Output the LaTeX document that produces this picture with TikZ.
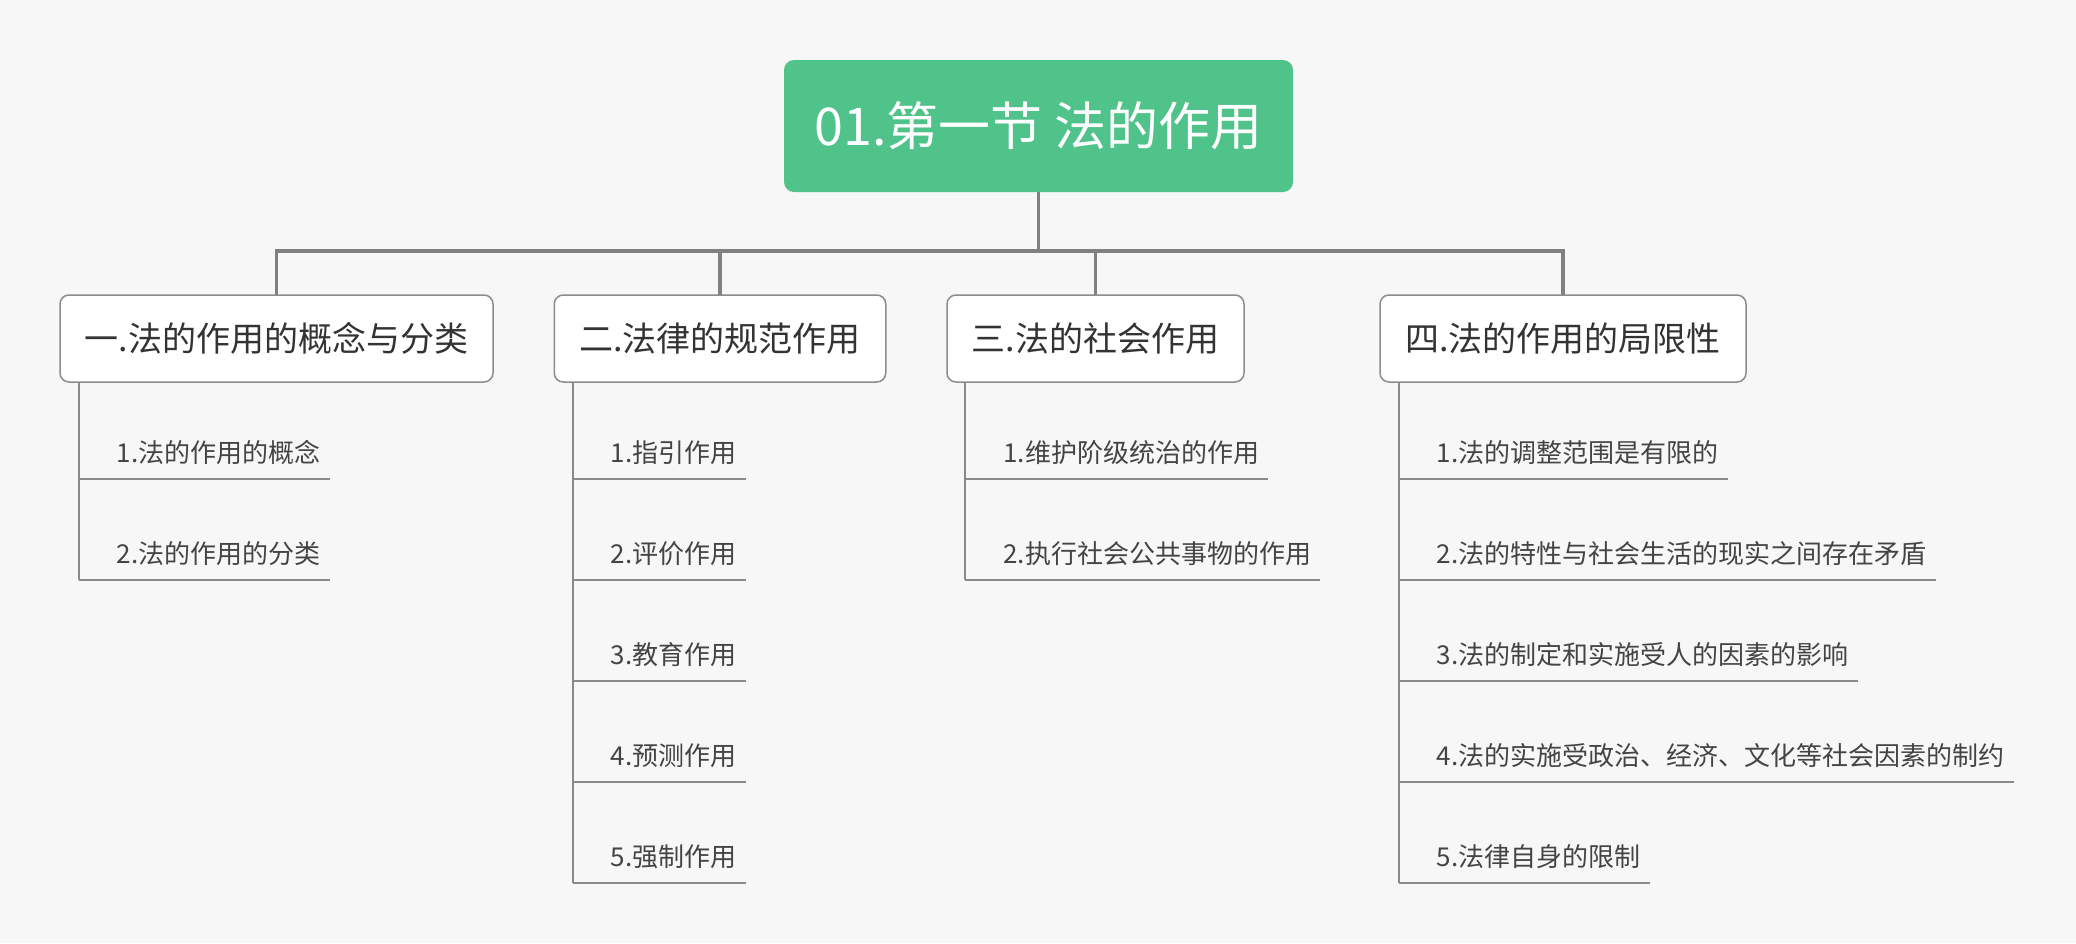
\documentclass[tikz,border=0pt]{standalone}
\usepackage{fontspec}
\setmainfont{Noto Sans CJK SC}
\usetikzlibrary{calc}
\definecolor{bgcol}{HTML}{F7F7F7}
\definecolor{rootgreen}{HTML}{50C38A}
\definecolor{trunkgray}{HTML}{808080}
\definecolor{twiggray}{HTML}{8A8A8A}
\definecolor{boxline}{HTML}{8C8C8C}
\definecolor{topictext}{HTML}{333333}
\definecolor{leaftext}{HTML}{444444}
\begin{document}
\begin{tikzpicture}[x=1pt,y=-1pt,
  rootbox/.style={fill=rootgreen, rounded corners=10pt, minimum width=509pt, minimum height=132pt,
    text=white, font=\fontsize{52}{60}\selectfont, inner sep=0pt},
  topic/.style={draw=boxline, line width=1.5pt, fill=white, rounded corners=9pt, minimum height=87pt,
    font=\fontsize{34}{40}\selectfont, text=topictext, inner sep=0pt},
  leaf/.style={anchor=base west, inner xsep=9pt, inner ysep=0pt,
    font=\fontsize{26}{30}\selectfont, text=leaftext},
  trunk/.style={draw=trunkgray, line width=3.5pt, line join=miter},
  twig/.style={draw=twiggray, line width=2pt}]
\useasboundingbox[fill=bgcol] (0,0) rectangle (2076,943);

% connectors first (drawn under boxes)
\coordinate (bus) at (1038.5,251);
\coordinate (rootbot) at (1038.5,192);
\coordinate (t1top) at (276.5,295);
\coordinate (t2top) at (720,295);
\coordinate (t3top) at (1095.5,295);
\coordinate (t4top) at (1563,295);
\draw[trunk] (rootbot) -- (bus);
\draw[trunk] (t1top) |- (bus) -| (t4top);
\draw[trunk] (t2top) -- (t2top |- bus);
\draw[trunk] (t3top) -- (t3top |- bus);

% root
\node[rootbox] (root) at (1038.5,126) {01.第一节 法的作用};

% topics
\node[topic, minimum width=433pt] (t1) at (276.5,338.5) {一.法的作用的概念与分类};
\node[topic, minimum width=331.5pt] (t2) at (720,338.5) {二.法律的规范作用};
\node[topic, minimum width=297pt] (t3) at (1095.5,338.5) {三.法的社会作用};
\node[topic, minimum width=366pt] (t4) at (1563,338.5) {四.法的作用的局限性};

\coordinate (v1) at ($(t1.south west)+(19.5,0)$);
\coordinate (v2) at ($(t2.south west)+(19,0)$);
\coordinate (v3) at ($(t3.south west)+(19,0)$);
\coordinate (v4) at ($(t4.south west)+(19.5,0)$);

% leaves of topic 1
\foreach \k/\txt in {1/1.法的作用的概念, 2/2.法的作用的分类}{
  \path (v1) ++(29,{79.5+101*(\k-1)}) node[leaf] (a\k) {\txt};
  \path (v1) ++(0,{96.5+101*(\k-1)}) coordinate (ua\k);
  \draw[twig] (ua\k) -- (ua\k -| a\k.east);
}
\draw[twig] (v1) -- (ua2);

% leaves of topic 2
\foreach \k/\txt in {1/1.指引作用, 2/2.评价作用, 3/3.教育作用, 4/4.预测作用, 5/5.强制作用}{
  \path (v2) ++(29,{79.5+101*(\k-1)}) node[leaf] (b\k) {\txt};
  \path (v2) ++(0,{96.5+101*(\k-1)}) coordinate (ub\k);
  \draw[twig] (ub\k) -- (ub\k -| b\k.east);
}
\draw[twig] (v2) -- (ub5);

% leaves of topic 3
\foreach \k/\txt in {1/1.维护阶级统治的作用, 2/2.执行社会公共事物的作用}{
  \path (v3) ++(29,{79.5+101*(\k-1)}) node[leaf] (c\k) {\txt};
  \path (v3) ++(0,{96.5+101*(\k-1)}) coordinate (uc\k);
  \draw[twig] (uc\k) -- (uc\k -| c\k.east);
}
\draw[twig] (v3) -- (uc2);

% leaves of topic 4
\foreach \k/\txt in {1/1.法的调整范围是有限的, 2/2.法的特性与社会生活的现实之间存在矛盾, 3/3.法的制定和实施受人的因素的影响, 4/4.法的实施受政治、经济、文化等社会因素的制约, 5/5.法律自身的限制}{
  \path (v4) ++(29,{79.5+101*(\k-1)}) node[leaf] (d\k) {\txt};
  \path (v4) ++(0,{96.5+101*(\k-1)}) coordinate (ud\k);
  \draw[twig] (ud\k) -- (ud\k -| d\k.east);
}
\draw[twig] (v4) -- (ud5);
\end{tikzpicture}
\end{document}
